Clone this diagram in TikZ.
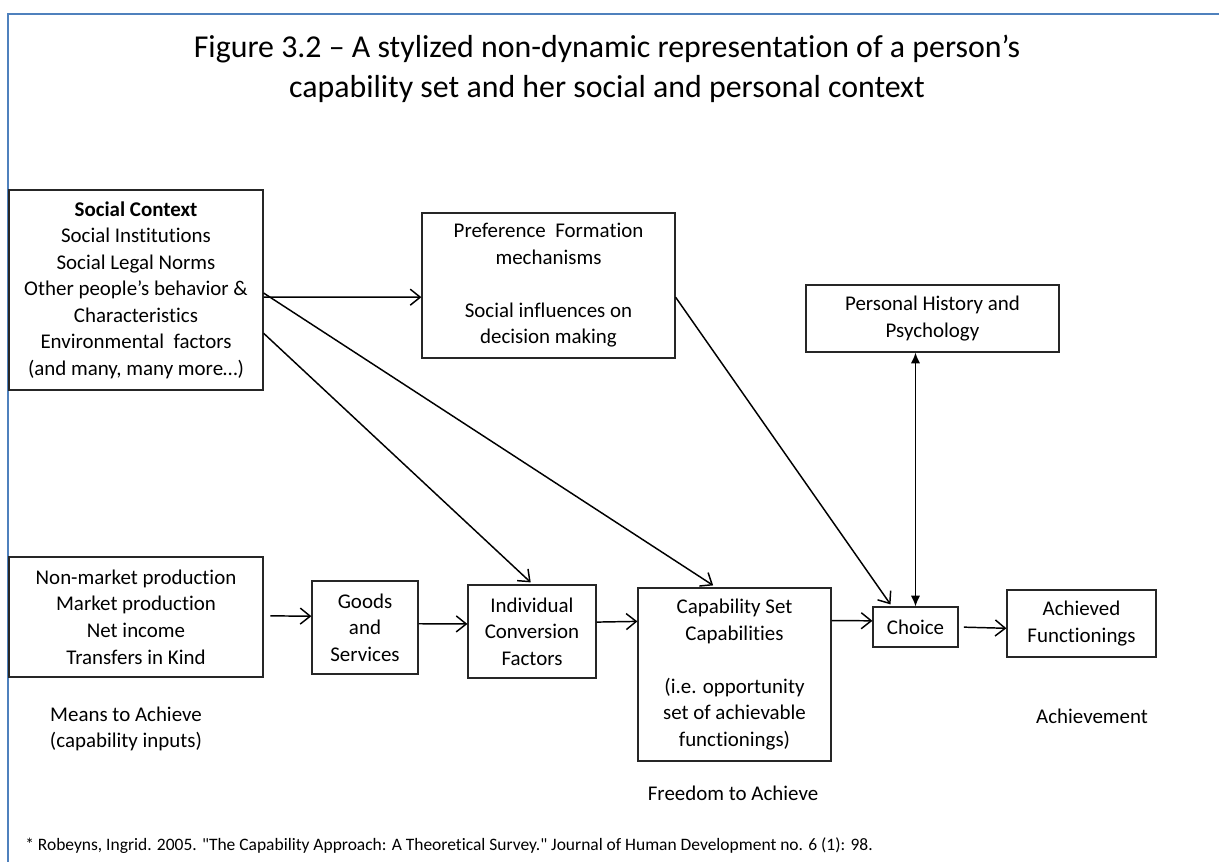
\documentclass[tikz,border=0pt]{standalone}
\usepackage{fontspec}
\setmainfont{Carlito}[Ligatures={NoCommon,TeXOff}]
\usetikzlibrary{calc,arrows.meta}
\definecolor{frameblue}{HTML}{4F81BD}
\begin{document}
\begin{tikzpicture}[x=0.75pt,y=-0.75pt,
  txt/.style={font=\fontsize{15.7}{19.9}\selectfont, align=center, inner sep=0pt},
  box/.style 2 args={draw=black!85, line width=0.9pt, txt,
    minimum width=#1*0.75pt, minimum height=#2*0.75pt},
  flow/.style={line width=1.1pt, -{Straight Barb[length=7.5pt,width=12pt,line width=1.1pt]}},
  both/.style={line width=1.1pt, {Latex[length=8pt,width=7pt]}-{Latex[length=8pt,width=7pt]}}]
\path[use as bounding box] (0,0) rectangle (1219,861);
% page frame
\draw[frameblue, line width=1.6pt] (8,870) -- (8,14) -- (1225,14);

% heading
\node[font=\fontsize{23.9}{30}\selectfont, align=center, inner sep=0pt] (title) at (607,69)
  {Figure 3.2 – A stylized non-dynamic representation of a person’s\\
   capability set and her social and personal context};

% boxes
\node[box={254}{200}] (social) at (136,290)
  {\textbf{Social Context}\\Social Institutions\\Social Legal Norms\\
   Other people’s behavior \&\\Characteristics\\Environmental\ \ factors\\
   (and many, many more…)};
\node[box={253}{145}] (pref) at (548.5,285.5)
  {Preference\ \ Formation\\mechanisms\\[19.9pt]Social influences on\\decision making};
\node[box={253}{67}] (hist) at (932.5,318.5)
  {Personal History and\\Psychology};
\node[box={254}{120}] (means) at (136,617)
  {Non-market production\\Market production\\Net income\\Transfers in Kind};
\node[box={106}{93}] (goods) at (365,627.5)
  {Goods\\and\\Services};
\node[box={128}{93}] (conv) at (532,631.5)
  {Individual\\Conversion\\Factors};
\node[box={193}{173}] (capset) at (734.5,674.5)
  {Capability Set\\Capabilities\\[19.9pt](i.e. opportunity\\set of achievable\\functionings)};
\node[box={85}{40}] (choice) at (915.5,627)
  {Choice};
\node[box={149}{67}] (func) at (1081.5,623.5)
  {Achieved\\Functionings};

% captions under the rows
\node[txt] (meansCap) at (126,729) {Means to Achieve\\(capability inputs)};
\node[txt] (freeCap) at (733,793) {Freedom to Achieve};
\node[txt] (achCap) at (1092,716) {Achievement};

% source line
\node[anchor=west, inner sep=0pt, font=\fontsize{13.1}{15}\selectfont] (source) at (25,846)
  {* Robeyns, Ingrid. 2005. "The Capability Approach: A Theoretical Survey." Journal of Human Development no. 6 (1): 98.};

% connectors
\draw[flow] ($(social.north east)!0.535!(social.south east)$) -- ($(pref.north west)!0.58!(pref.south west)$);
\draw[flow] ($(social.north east)!0.515!(social.south east)$) -- ([yshift=1.5pt]$(capset.north west)!0.39!(capset.north east)$);
\draw[flow] ($(social.north east)!0.715!(social.south east)$) -- ([yshift=1.5pt]$(conv.north west)!0.49!(conv.north east)$);
\draw[flow] ($(pref.north east)!0.58!(pref.south east)$) -- ([yshift=1.5pt]$(choice.north west)!0.21!(choice.north east)$);
\draw[both] (choice.north) -- (choice.north |- hist.south);
\draw[flow, shorten <=5pt] ($(means.north east)!0.49!(means.south east)$) -- ($(goods.north west)!0.38!(goods.south west)$);
\draw[flow] ($(goods.north east)!0.46!(goods.south east)$) -- ($(conv.north west)!0.42!(conv.south west)$);
\draw[flow] ($(conv.north east)!0.40!(conv.south east)$) -- ($(capset.north west)!0.195!(capset.south west)$);
\draw[flow] ($(capset.north east)!0.19!(capset.south east)$) -- ($(choice.north west)!0.35!(choice.south west)$);
\draw[flow, shorten <=4pt] (choice.east) -- ($(func.north west)!0.57!(func.south west)$);
\end{tikzpicture}
\end{document}
